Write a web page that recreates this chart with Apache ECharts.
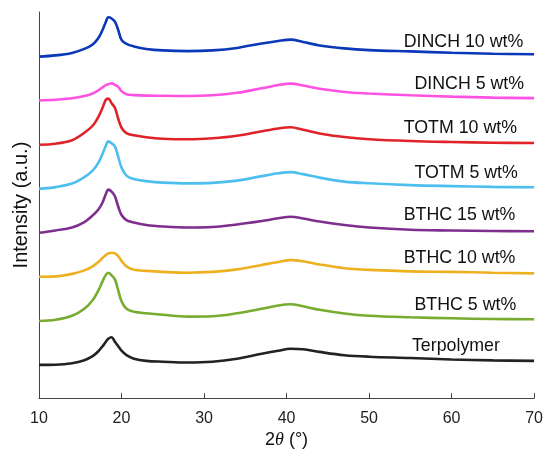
<!DOCTYPE html>
<html>
<head>
<meta charset="utf-8">
<script src="https://cdn.jsdelivr.net/npm/echarts@6/dist/echarts.min.js"></script>
<style>
html,body{margin:0;padding:0;background:#fff;}
#chart{width:546px;height:454px;}
</style>
</head>
<body>
<div id="chart"></div>
<script>
// 2θ sample positions (degrees)
var twoTheta = [10, 12, 14, 15.5, 16.5, 17.2, 17.7, 18.1, 18.4, 18.8, 19.2, 19.6, 20, 20.6, 21.5, 23, 25, 28, 31, 34, 37, 39, 40.5, 42, 44, 47, 50, 55, 60, 65, 70];

// Stacked intensities (a.u., offset curves)
var dinch10 = [342.3, 343.5, 346, 350, 354.5, 361, 369, 377, 381.7, 380.5, 377.3, 369, 359, 355, 352.5, 350, 348.5, 347.8, 348.5, 351, 355.5, 358, 359.3, 357, 353.5, 350.5, 348.8, 347.5, 346.2, 345.2, 344.7];
var dinch5  = [298.3, 299, 300.5, 302.7, 305.3, 308.5, 311.5, 313.7, 314.5, 315.5, 314, 312, 307.7, 304.5, 303.7, 303.2, 303, 302.8, 303.5, 306, 310.5, 313.8, 315.2, 313.3, 310, 306.8, 305.3, 303.5, 302.2, 301.2, 300.7];
var totm10  = [254, 255, 258.5, 266, 273, 282, 291, 299, 300.2, 295.5, 291, 280, 271, 265.7, 263.5, 261.5, 260, 259.5, 260.5, 263, 267.5, 270.3, 271.5, 269, 265.3, 261.7, 259.5, 257.7, 256.7, 256, 255.7];
var totm5   = [209.7, 211.5, 215, 221.5, 228, 236, 245, 253, 257.3, 255.5, 252.3, 242, 231, 223, 219.5, 217.5, 216, 215.2, 215.7, 218, 222.5, 225.3, 226.5, 224.5, 221, 217, 215.3, 213.5, 212.5, 211.7, 211.3];
var bthc15  = [165.7, 168, 171, 176.5, 183, 189, 196, 204.5, 209, 207, 202.3, 192, 183.5, 178.5, 176, 173.5, 172, 171, 171.5, 174, 177.5, 180.3, 181.8, 180, 177, 173.5, 171, 168.7, 168, 167.5, 167.3];
var bthc10  = [121.7, 122, 124.5, 128, 132, 136.5, 140.5, 143.5, 145, 145.7, 145, 142.3, 137.5, 132, 128.7, 127.5, 126.5, 125.7, 126.5, 129, 133.5, 136.5, 138.3, 137.2, 134, 130.2, 128.5, 127, 126.5, 125.7, 125];
var bthc5   = [77.3, 78.5, 82.5, 89.5, 98, 108, 117, 123.5, 125.7, 123, 119, 108, 97, 89.5, 86.5, 85, 83.5, 81.7, 82, 85, 89.5, 92.8, 94, 92, 88.5, 84.8, 82.5, 81, 80, 79.3, 79];
var terpolymer = [33.3, 33.5, 35, 38, 42, 47, 52, 56.5, 59.5, 61, 56.5, 52, 47.5, 43, 39.5, 37.3, 36.5, 35.7, 36.5, 39.5, 44.5, 47.5, 49.5, 49, 46.3, 43, 41.5, 40.2, 38.7, 37.8, 37.3];

var seriesNames = ['DINCH 10 wt%', 'DINCH 5 wt%', 'TOTM 10 wt%', 'TOTM 5 wt%', 'BTHC 15 wt%', 'BTHC 10 wt%', 'BTHC 5 wt%', 'Terpolymer'];
var seriesValues = [dinch10, dinch5, totm10, totm5, bthc15, bthc10, bthc5, terpolymer];
// label anchor (2θ, intensity) for each curve name
var labelTheta = [54.2, 55.5, 54.2, 55.5, 54.2, 54.2, 55.5, 55.2];
var labelIntensity = [357.3, 315, 271, 226, 183, 140, 93, 52.3];

var colors = ['#0a38b8', '#ff52e2', '#e02328', '#4dbfee', '#7e2f8e', '#edb120', '#77ac30', '#222222'];

var series = seriesNames.map(function (name, i) {
  return {
    name: name,
    type: 'line',
    data: twoTheta.map(function (t, j) { return [t, seriesValues[i][j]]; }),
    showSymbol: false,
    smooth: 0.35,
    lineStyle: { color: colors[i], width: 2.6 },
    itemStyle: { color: colors[i] },
    silent: true,
    markPoint: {
      silent: true,
      symbol: 'circle',
      symbolSize: 0,
      data: [{ coord: [labelTheta[i], labelIntensity[i]], value: name }],
      label: {
        show: true,
        position: 'right',
        distance: 0,
        formatter: name,
        color: '#111',
        fontSize: 17.8,
        fontFamily: 'Liberation Sans, Arial, sans-serif'
      }
    }
  };
});

var chart = echarts.init(document.getElementById('chart'), null, { renderer: 'canvas' });
chart.setOption({
  animation: false,
  backgroundColor: '#fff',
  grid: { left: 39, right: 11, top: 12, bottom: 55, containLabel: false },
  xAxis: {
    type: 'value',
    min: 10, max: 70, interval: 10,
    name: '{a|2}{i|θ}{a| (°)}',
    nameLocation: 'middle',
    nameGap: 30,
    nameTextStyle: {
      rich: {
        a: { fontSize: 18, color: '#111', fontFamily: 'Liberation Sans, Arial, sans-serif' },
        i: { fontSize: 18, color: '#111', fontStyle: 'italic', fontFamily: 'Liberation Serif, Times New Roman, serif' }
      }
    },
    axisLine: { show: true, lineStyle: { color: '#444', width: 1 } },
    axisTick: { show: true, inside: true, length: 5, lineStyle: { color: '#444' } },
    axisLabel: { fontSize: 16, color: '#222', margin: 12, fontFamily: 'Liberation Sans, Arial, sans-serif' },
    splitLine: { show: false }
  },
  yAxis: {
    type: 'value',
    min: 0, max: 387,
    name: 'Intensity (a.u.)',
    nameLocation: 'middle',
    nameGap: 8,
    nameTextStyle: { fontSize: 20, color: '#111', fontFamily: 'Liberation Sans, Arial, sans-serif' },
    axisLine: { show: true, lineStyle: { color: '#444', width: 1 } },
    axisTick: { show: false },
    axisLabel: { show: false },
    splitLine: { show: false }
  },
  series: series
});
</script>
</body>
</html>
